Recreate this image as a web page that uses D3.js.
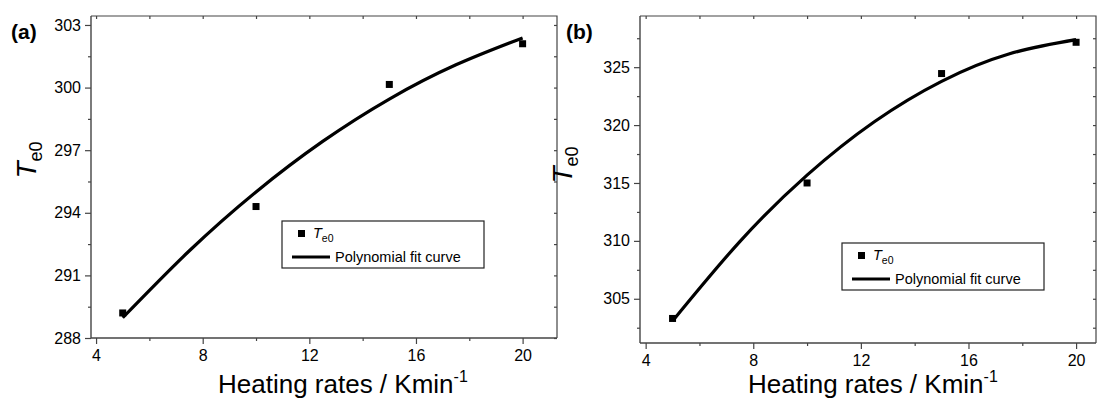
<!DOCTYPE html>
<html>
<head>
<meta charset="utf-8">
<script src="https://cdn.jsdelivr.net/npm/d3@7"></script>
<style>
  body { margin: 0; background: #fff; }
  svg text { font-family: "Liberation Sans", Arial, sans-serif; fill: #000; }
</style>
</head>
<body>
<div id="main"></div>
<script>
// heating rates (K/min) and onset temperatures
const rates = [5, 10, 15, 20];
const teA = [289.2, 294.3, 300.15, 302.1];
const teB = [303.3, 315.0, 324.45, 327.15];

// fitted curve
const fitX = [5, 7.5, 10, 12.5, 15, 17.5, 20];
const fitA = [288.97, 292.18, 295.0, 297.42, 299.45, 301.09, 302.38];
const fitB = [303.08, 309.94, 315.68, 320.29, 323.78, 326.14, 327.38];

const xTicks = [4, 8, 12, 16, 20];
const xMinor = [6, 10, 14, 18];
const yTicksA = [288, 291, 294, 297, 300, 303];
const yMinorA = [289.5, 292.5, 295.5, 298.5, 301.5];
const yTicksB = [305, 310, 315, 320, 325];
const yMinorB = [302.5, 307.5, 312.5, 317.5, 322.5, 327.5];

const svg = d3.select("#main")
  .append("svg")
    .attr("width", 1100)
    .attr("height", 400);

const axisColor = "#444";

function drawPanel(p) {
  const g = svg.append("g");

  const x = d3.scaleLinear().domain(p.xDomain).range([p.left, p.right]);
  const y = d3.scaleLinear().domain(p.yDomain).range([p.bottom, p.top]);

  // frame top + right
  g.append("path")
    .attr("d", `M${p.left},${p.top}H${p.right}V${p.bottom}`)
    .attr("fill", "none").attr("stroke", axisColor).attr("stroke-width", 1.2);

  // top / right inner ticks
  g.append("g").attr("transform", `translate(0,${p.top})`)
    .call(d3.axisBottom(x).tickValues(xTicks.concat(xMinor)).tickSize(3).tickFormat(""))
    .call(a => a.select(".domain").remove());
  g.append("g").attr("transform", `translate(${p.right},0)`)
    .call(d3.axisLeft(y).tickValues(p.yTicks.concat(p.yMinor)).tickSize(3).tickFormat(""))
    .call(a => a.select(".domain").remove());

  // bottom axis
  const xa = g.append("g").attr("transform", `translate(0,${p.bottom})`)
    .call(d3.axisBottom(x).tickValues(xTicks).tickSize(6).tickPadding(6).tickFormat(d3.format("d")));
  g.append("g").attr("transform", `translate(0,${p.bottom})`)
    .call(d3.axisBottom(x).tickValues(xMinor).tickSize(3).tickFormat(""))
    .call(a => a.select(".domain").remove());

  // left axis
  const ya = g.append("g").attr("transform", `translate(${p.left},0)`)
    .call(d3.axisLeft(y).tickValues(p.yTicks).tickSize(6).tickPadding(4).tickFormat(d3.format("d")));
  g.append("g").attr("transform", `translate(${p.left},0)`)
    .call(d3.axisLeft(y).tickValues(p.yMinor).tickSize(3).tickFormat(""))
    .call(a => a.select(".domain").remove());

  // axis extents cover whole frame
  xa.select(".domain").attr("d", `M${p.left},0H${p.right}`);
  ya.select(".domain").attr("d", `M0,${p.top}V${p.bottom}`);

  g.selectAll(".tick line").attr("stroke", axisColor).attr("stroke-width", 1.2);
  g.selectAll(".domain").attr("stroke", axisColor).attr("stroke-width", 1.4);
  g.selectAll(".tick text")
    .style("font-size", "16px")
    .style("font-family", "'Liberation Sans', Arial, sans-serif")
    .attr("fill", "#000");

  // fit curve
  const fitData = fitX.map((d, i) => ({x: d, y: p.fit[i]}));
  g.append("path")
    .datum(fitData)
    .attr("fill", "none")
    .attr("stroke", "#000")
    .attr("stroke-width", 3.2)
    .attr("d", d3.line()
      .x(d => x(d.x))
      .y(d => y(d.y))
      .curve(d3.curveNatural));

  // points
  g.selectAll(".pt")
    .data(rates.map((d, i) => ({x: d, y: p.te[i]})))
    .join("rect")
      .attr("class", "pt")
      .attr("x", d => x(d.x) - 3.5)
      .attr("y", d => y(d.y) - 3.5)
      .attr("width", 7)
      .attr("height", 7)
      .attr("fill", "#000");

  // panel label
  g.append("text")
    .attr("x", p.labelX).attr("y", 39)
    .style("font-size", "21px").style("font-weight", "bold")
    .text(p.label);

  // y title
  const yt = g.append("text")
    .attr("transform", `translate(${p.yTitleX},${p.yTitleY}) rotate(-90)`)
    .attr("text-anchor", "middle");
  yt.append("tspan").style("font-size", "28px").style("font-style", "italic").text("T");
  yt.append("tspan").style("font-size", "18px").attr("dy", 6).text("e0");

  // x title
  const xt = g.append("text")
    .attr("x", p.xTitleX).attr("y", 393)
    .style("font-size", "26px");
  xt.append("tspan").text("Heating rates / Kmin");
  xt.append("tspan").style("font-size", "16px").attr("dy", -11).text("-1");

  // legend
  const lg = g.append("g").attr("transform", `translate(${p.legX},${p.legY})`);
  lg.append("rect")
    .attr("width", 202).attr("height", 47)
    .attr("fill", "#fff").attr("stroke", "#222").attr("stroke-width", 1.2);
  lg.append("rect")
    .attr("x", 16).attr("y", 9).attr("width", 7).attr("height", 7).attr("fill", "#000");
  const lt = lg.append("text").attr("x", 31).attr("y", 17);
  lt.append("tspan").style("font-size", "14.5px").style("font-style", "italic").text("T");
  lt.append("tspan").style("font-size", "10.5px").attr("dy", 4).text("e0");
  lg.append("line")
    .attr("x1", 10).attr("x2", 48).attr("y1", 36).attr("y2", 36)
    .attr("stroke", "#000").attr("stroke-width", 3.2);
  lg.append("text")
    .attr("x", 53).attr("y", 41)
    .style("font-size", "14.5px")
    .text("Polynomial fit curve");
}

drawPanel({
  left: 91, right: 557, top: 16, bottom: 338,
  xDomain: [3.81, 21.29], yDomain: [288, 303.43],
  yTicks: yTicksA, yMinor: yMinorA,
  te: teA, fit: fitA,
  label: "(a)", labelX: 11,
  yTitleX: 36, yTitleY: 160,
  xTitleX: 218,
  legX: 282, legY: 221
});

drawPanel({
  left: 640, right: 1096, top: 16, bottom: 343,
  xDomain: [3.79, 20.74], yDomain: [301.18, 329.42],
  yTicks: yTicksB, yMinor: yMinorB,
  te: teB, fit: fitB,
  label: "(b)", labelX: 566,
  yTitleX: 572, yTitleY: 165,
  xTitleX: 748,
  legX: 842, legY: 243
});
</script>
</body>
</html>
